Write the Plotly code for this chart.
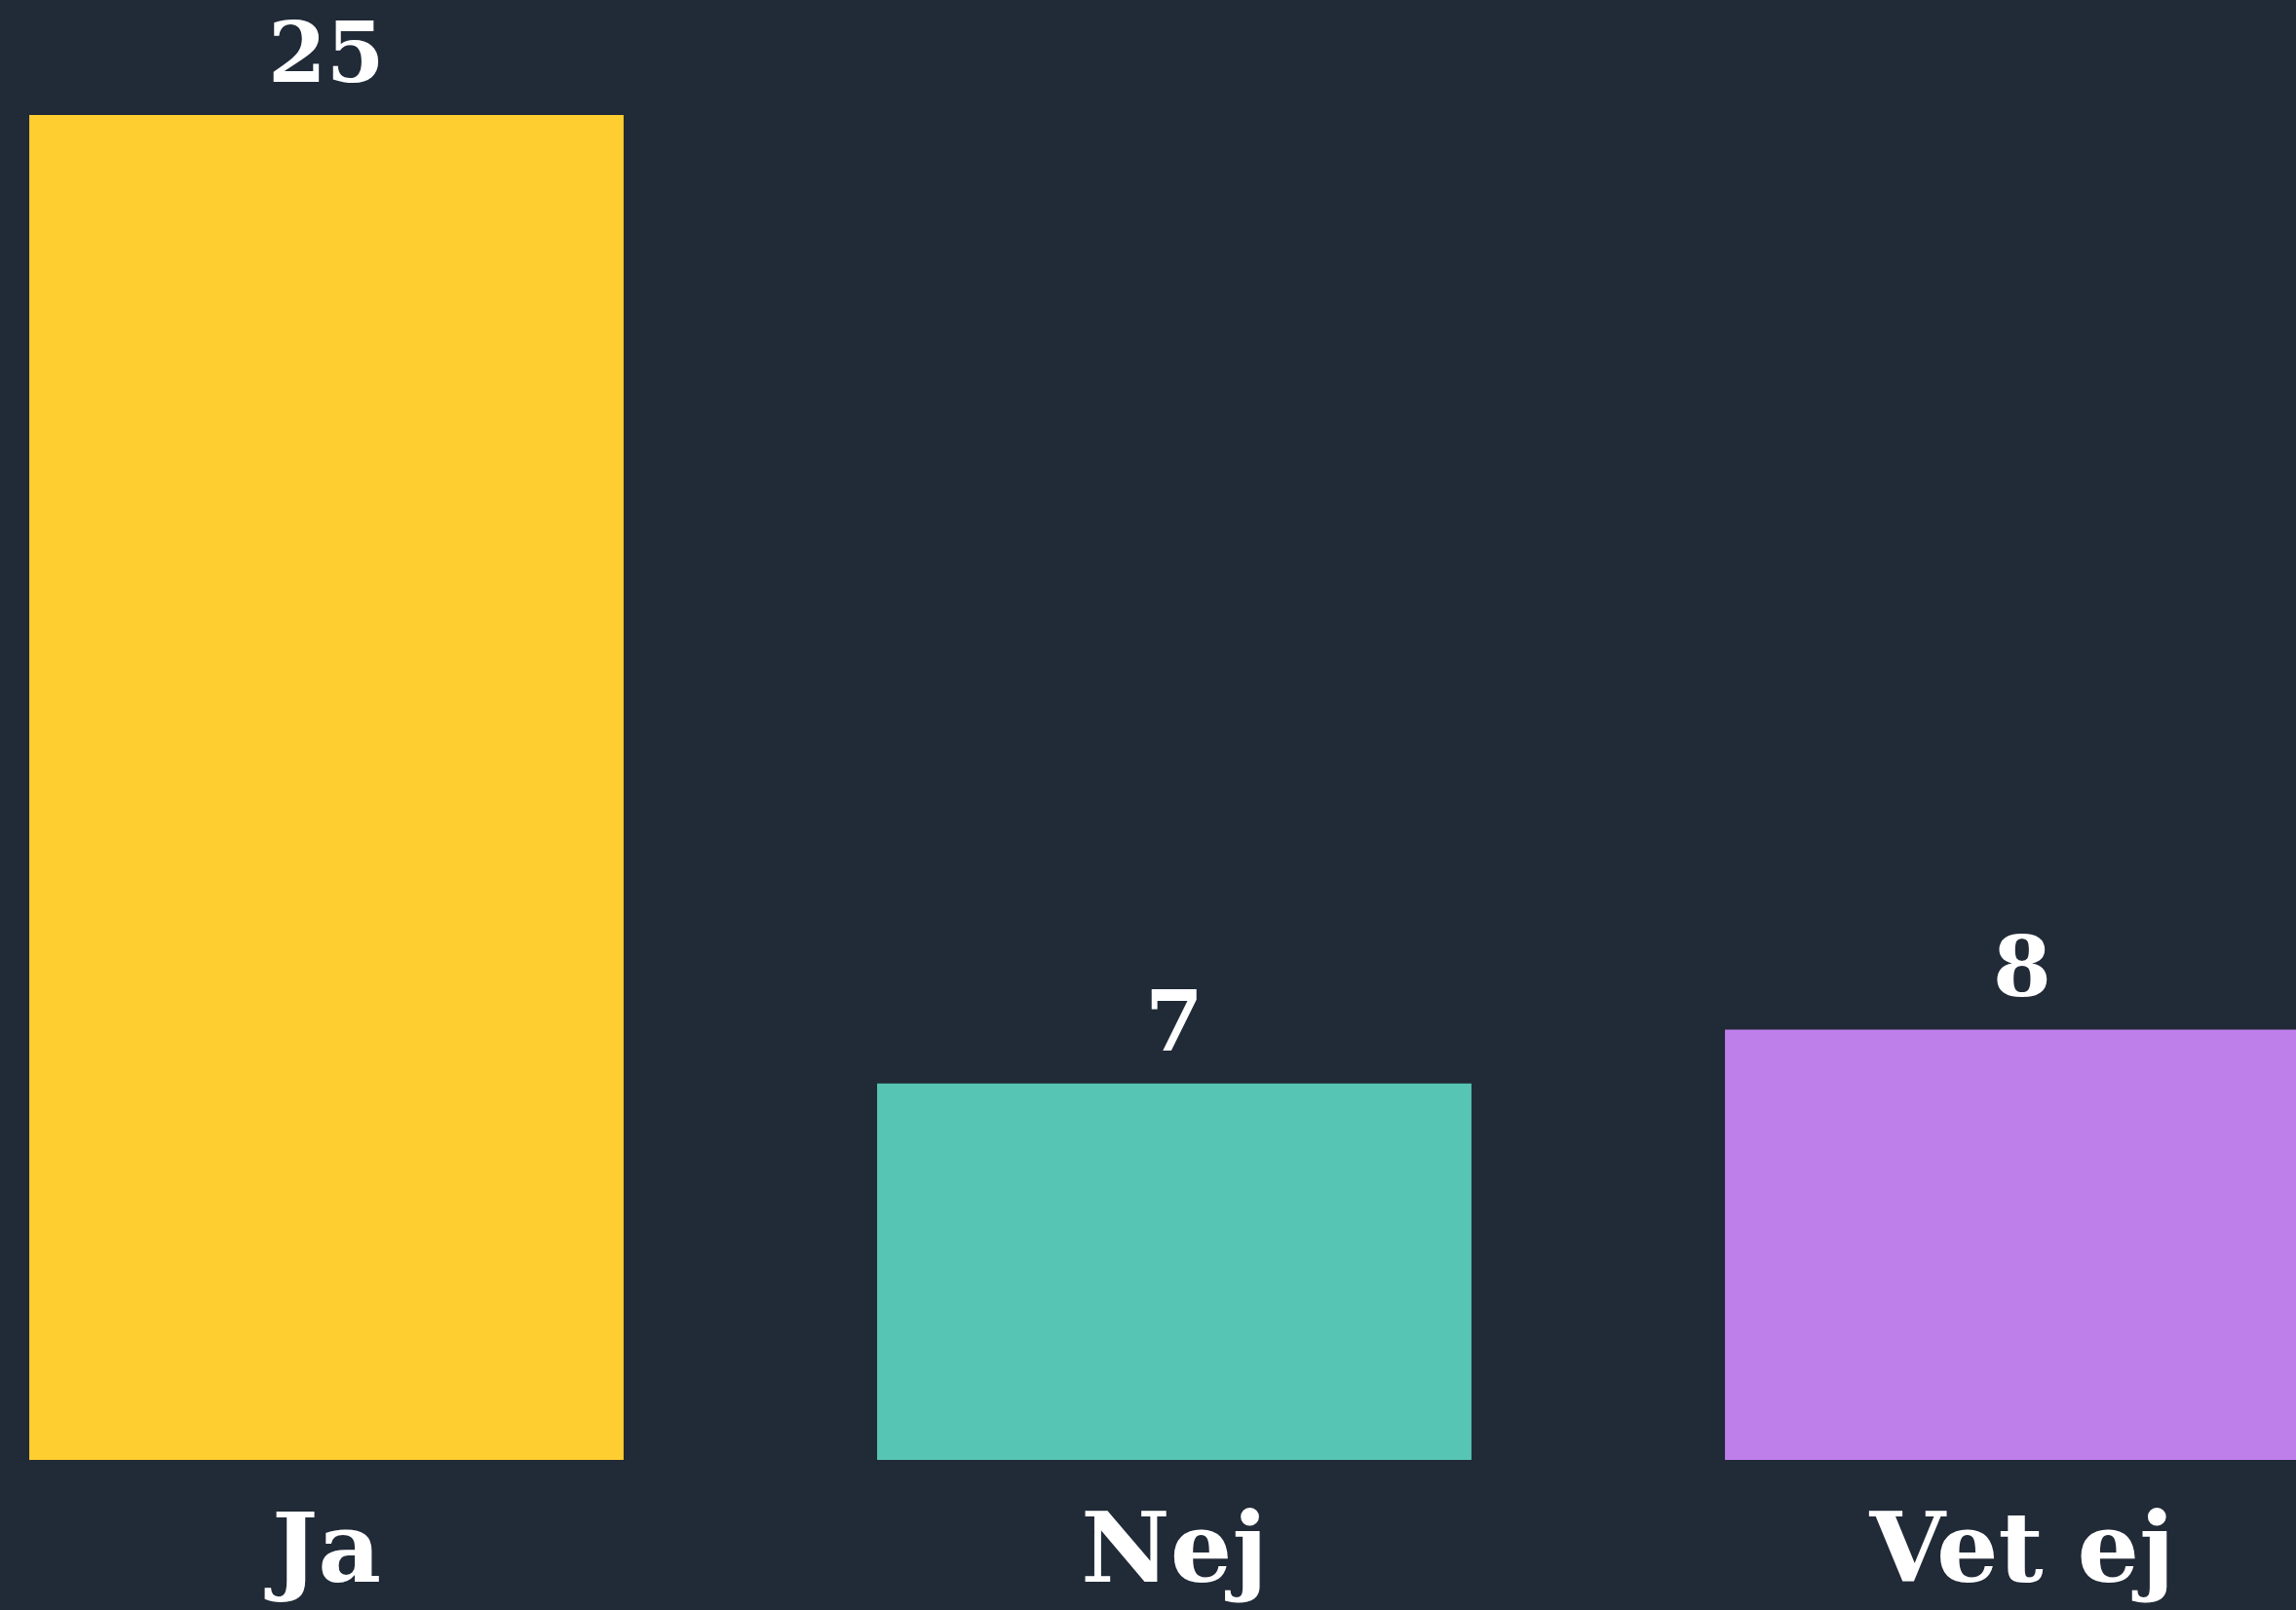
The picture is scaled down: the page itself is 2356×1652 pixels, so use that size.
import plotly.graph_objects as go

categories = ["Ja", "Nej", "Vet ej"]
values = [25, 7, 8]
colors = ["#fecd2f", "#56c5b4", "#bf7feb"]

BG = "#212a37"
FONT = "DejaVu Serif"

fig = go.Figure()
fig.add_trace(go.Bar(
    x=categories,
    y=values,
    marker=dict(color=colors, line=dict(width=0)),
    width=0.701,
    hoverinfo="skip",
))

for c, v in zip(categories, values):
    fig.add_annotation(
        x=c, y=v, text=f"<b>{v}</b>", showarrow=False,
        yanchor="bottom", yshift=12,
        font=dict(family=FONT, size=86, color="white"),
    )

fig.update_layout(
    width=2356, height=1652,
    margin=dict(l=0, r=0, t=0, b=154, pad=0),
    paper_bgcolor=BG, plot_bgcolor=BG,
    showlegend=False,
    xaxis=dict(
        range=[-0.385, 2.323], showgrid=False, zeroline=False, showline=False,
        tickfont=dict(family=FONT, size=100, color="white"),
        ticks="", ticklabelstandoff=24,
        tickvals=categories, ticktext=[f"<b>{c}</b>" for c in categories],
    ),
    yaxis=dict(
        range=[0, 27.14], showgrid=False, zeroline=False, showline=False,
        showticklabels=False,
    ),
)

fig.write_html(
    "out.html",
    config={"displayModeBar": False},
    post_script="document.body.style.margin='0';document.body.style.background='#212a37';document.body.style.overflow='hidden';",
)
